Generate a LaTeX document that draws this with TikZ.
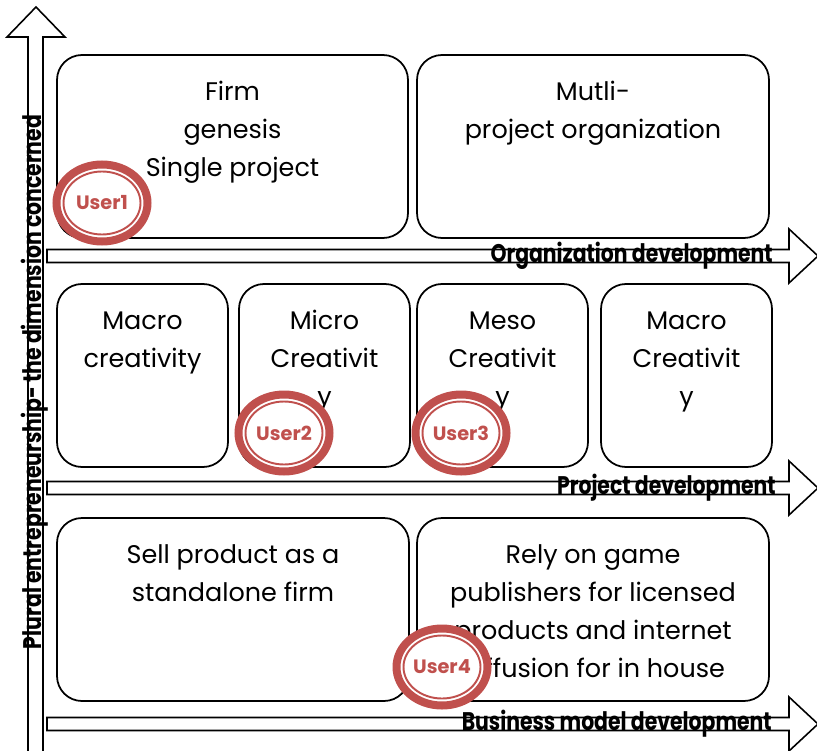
\documentclass[tikz,border=0pt]{standalone}
\usepackage{fontspec}
\setmainfont{Poppins}
\usepackage{tikz}
\usetikzlibrary{positioning}
\usetikzlibrary{calc}
\definecolor{userred}{HTML}{C0504D}

\newcommand{\narrow}[1]{\scalebox{0.8}[1]{#1}}

\tikzset{
  panel/.style={draw, line width=1pt, rounded corners=0.5cm, fill=white},
  paneltext/.style={anchor=north, align=center, inner sep=0pt, font=\fontsize{14.5}{21.6}\selectfont},
  blockarrow/.style={draw, line width=0.9pt, fill=white, line join=miter},
  axislabel/.style={inner sep=0pt, font=\bfseries\fontsize{14.5}{16}\selectfont},
  userring/.style={draw=userred, line width=0.16cm, fill=white},
  userline/.style={draw=userred, line width=1.1pt},
  usertext/.style={text=userred, font=\bfseries\fontsize{11}{13}\selectfont}
}

\begin{document}
\begin{tikzpicture}[x=0.02cm, y=-0.02cm]
  \useasboundingbox (0,0) rectangle (817,750);

  %vertical axis
  \draw[blockarrow] (28,760) -- (28,37) -- (7,37) -- (36,7) -- (65,37) -- (43,37) -- (43,760) -- cycle;

  %horizontal axes
  \def\sh{6.5};
  \def\hh{27};
  \foreach \y in {256,488,724}{
      \draw[blockarrow] (47,\y-\sh) -- (789,\y-\sh) -- (789,\y-\hh) -- (818,\y) -- (789,\y+\hh) -- (789,\y+\sh) -- (47,\y+\sh) -- cycle;
  }

  %panels
  \foreach \xa/\xb/\ya/\yb/\txt/\name in {57/408/55/238/{Firm\\genesis\\Single project}/firm,
      417/769/55/238/{Mutli-\\project organization}/multi,
      57/228/284/467/{Macro\\creativity}/macro,
      239/410/284/467/{Micro\\Creativit\\y}/micro,
      417/588/284/467/{Meso\\Creativit\\y}/meso,
      601/772/284/467/{Macro\\Creativit\\y}/macrob,
      57/409/518/701/{Sell product as a\\standalone firm}/sell,
      417/769/518/701/{Rely on game\\publishers for licensed\\products and internet\\diffusion for in house}/rely}{
      \draw[panel] (\xa,\ya) rectangle (\xb,\yb);
      \node[paneltext] (\name) at ({(\xa+\xb)/2}, \ya+18.5) {\strut\txt};
  }

  %axis labels
  \node[axislabel, rotate=90] (plural) at (35,382) {\narrow{Plural entrepreneurship- the dimension concerned}};
  \node[axislabel, anchor=east] (orgdev) at (773,256) {\narrow{Organization development}};
  \node[axislabel, anchor=east] (projdev) at (776,488) {\narrow{Project development}};
  \node[axislabel, anchor=east] (busdev) at (772,724) {\narrow{Business model development}};

  %users
  \foreach \x/\y/\num in {102/203/1, 284/433/2, 461/433/3, 442/667/4}{
      \draw[userring] (\x,\y) ellipse [x radius=45.5, y radius=38.5];
      \draw[userline] (\x,\y) ellipse [x radius=38.5, y radius=31.5];
      \node[usertext] (user\num) at (\x,\y) {User\num};
  }

\end{tikzpicture}
\end{document}
